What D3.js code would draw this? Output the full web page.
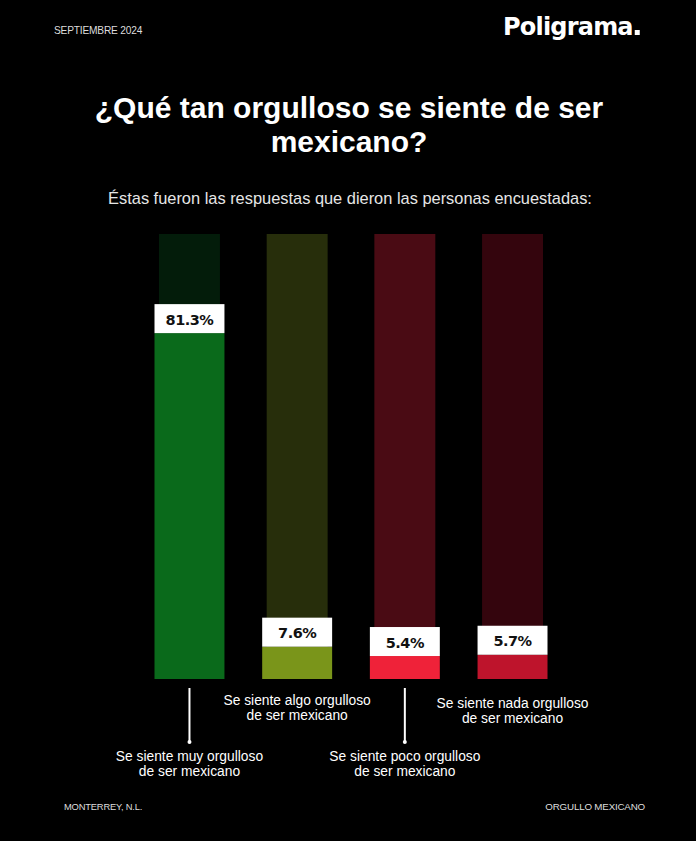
<!DOCTYPE html>
<html><head><meta charset="utf-8">
<script src="https://cdn.jsdelivr.net/npm/d3@7/dist/d3.min.js"></script>
<style>html,body{margin:0;padding:0;background:#000;}svg{display:block;}</style>
</head><body>
<script>
// DATA
const categories = ["Se siente muy orgulloso de ser mexicano","Se siente algo orgulloso de ser mexicano","Se siente poco orgulloso de ser mexicano","Se siente nada orgulloso de ser mexicano"];
const labelLines = [["Se siente muy orgulloso","de ser mexicano"],["Se siente algo orgulloso","de ser mexicano"],["Se siente poco orgulloso","de ser mexicano"],["Se siente nada orgulloso","de ser mexicano"]];
const values = [81.3, 7.6, 5.4, 5.7];
const valueLabels = ["81.3%","7.6%","5.4%","5.7%"];
const fgColors = ["#0a6a1b","#7a951a","#ef2239","#be142c"];
const bgColors = ["#031c0a","#272e0b","#4a0b14","#34050d"];
const labelBelow = [true,false,true,false];

const W = 696, H = 841;
const svg = d3.select("body").append("svg").attr("width", W).attr("height", H);
svg.append("rect").attr("width", W).attr("height", H).attr("fill", "#000");

const fontSans = "'Liberation Sans', Arial, sans-serif";

// header
svg.append("text").attr("x", 54).attr("y", 34).attr("fill", "#ddd")
  .style("font-family", fontSans).style("font-size", "10.2px").style("letter-spacing", "-0.2px").text("SEPTIEMBRE 2024");
const logo = svg.append("text").attr("x", 503).attr("y", 35).attr("fill", "#fff")
  .style("font-family", "'DejaVu Sans', sans-serif").style("font-weight", "bold").style("font-size", "24px")
  .style("letter-spacing", "-0.8px").text("Poligrama");
const logoW = logo.node().getComputedTextLength();
svg.append("rect").attr("x", 503 + logoW + 2).attr("y", 30).attr("width", 5).attr("height", 5).attr("fill", "#fff");

// title
const title = svg.append("text").attr("text-anchor", "middle").attr("fill", "#fff")
  .style("font-family", fontSans).style("font-weight", "bold").style("font-size", "30px");
title.append("tspan").attr("x", 349).attr("y", 118).text("¿Qué tan orgulloso se siente de ser");
title.append("tspan").attr("x", 349).attr("y", 152).text("mexicano?");
svg.append("text").attr("x", 350).attr("y", 204).attr("text-anchor", "middle").attr("fill", "#e6e6e6")
  .style("font-family", fontSans).style("font-size", "16.4px")
  .text("Éstas fueron las respuestas que dieron las personas encuestadas:");

// scales
const yMax = 104.6;
const x = d3.scaleBand().domain(categories).range([159, 543]).paddingInner(0.434).paddingOuter(0);
const y = d3.scaleLinear().domain([0, yMax]).range([679, 234]);
const widen = 4.5;

const g = svg.append("g");
// background bars
g.selectAll("rect.bg").data(categories).join("rect").attr("class", "bg")
  .attr("x", d => x(d)).attr("width", x.bandwidth())
  .attr("y", y(yMax)).attr("height", y(0) - y(yMax))
  .attr("fill", (d, i) => bgColors[i]);
// foreground bars
g.selectAll("rect.fg").data(values).join("rect").attr("class", "fg")
  .attr("x", (d, i) => x(categories[i]) - widen).attr("width", x.bandwidth() + 2 * widen)
  .attr("y", d => y(d)).attr("height", d => y(0) - y(d))
  .attr("fill", (d, i) => fgColors[i]);
// label boxes
const boxH = 29;
g.selectAll("rect.lb").data(values).join("rect").attr("class", "lb")
  .attr("x", (d, i) => x(categories[i]) - widen).attr("width", x.bandwidth() + 2 * widen)
  .attr("y", d => y(d) - boxH).attr("height", boxH).attr("fill", "#fff");
g.selectAll("text.vl").data(values).join("text").attr("class", "vl")
  .attr("x", (d, i) => x(categories[i]) + x.bandwidth() / 2)
  .attr("y", d => y(d) - boxH / 2 + 6).attr("text-anchor", "middle").attr("fill", "#111")
  .style("font-family", "'DejaVu Sans', sans-serif").style("font-weight", "bold").style("font-size", "14.5px")
  .style("letter-spacing", "-0.5px")
  .text((d, i) => valueLabels[i]);

// category labels
categories.forEach((c, i) => {
  const cx = x(c) + x.bandwidth() / 2;
  let y0;
  if (labelBelow[i]) {
    g.append("line").attr("x1", cx).attr("x2", cx).attr("y1", 688).attr("y2", 742)
      .attr("stroke", "#fff").attr("stroke-width", 2);
    g.append("circle").attr("cx", cx).attr("cy", 742).attr("r", 2).attr("fill", "#fff");
    y0 = 761;
  } else {
    y0 = 705 + (i === 3 ? 3 : 0);
  }
  const t = g.append("text").attr("text-anchor", "middle").attr("fill", "#fff")
    .style("font-family", fontSans).style("font-size", "13.8px");
  labelLines[i].forEach((l, k) => {
    t.append("tspan").attr("x", cx).attr("y", y0 + k * 15).text(l);
  });
});

// footer
svg.append("text").attr("x", 64).attr("y", 810).attr("fill", "#ddd")
  .style("font-family", fontSans).style("font-size", "9.4px").style("letter-spacing", "-0.2px").text("MONTERREY, N.L.");
svg.append("text").attr("x", 645).attr("y", 810).attr("text-anchor", "end").attr("fill", "#ddd")
  .style("font-family", fontSans).style("font-size", "9.8px").style("letter-spacing", "-0.2px").text("ORGULLO MEXICANO");
</script>
</body></html>
